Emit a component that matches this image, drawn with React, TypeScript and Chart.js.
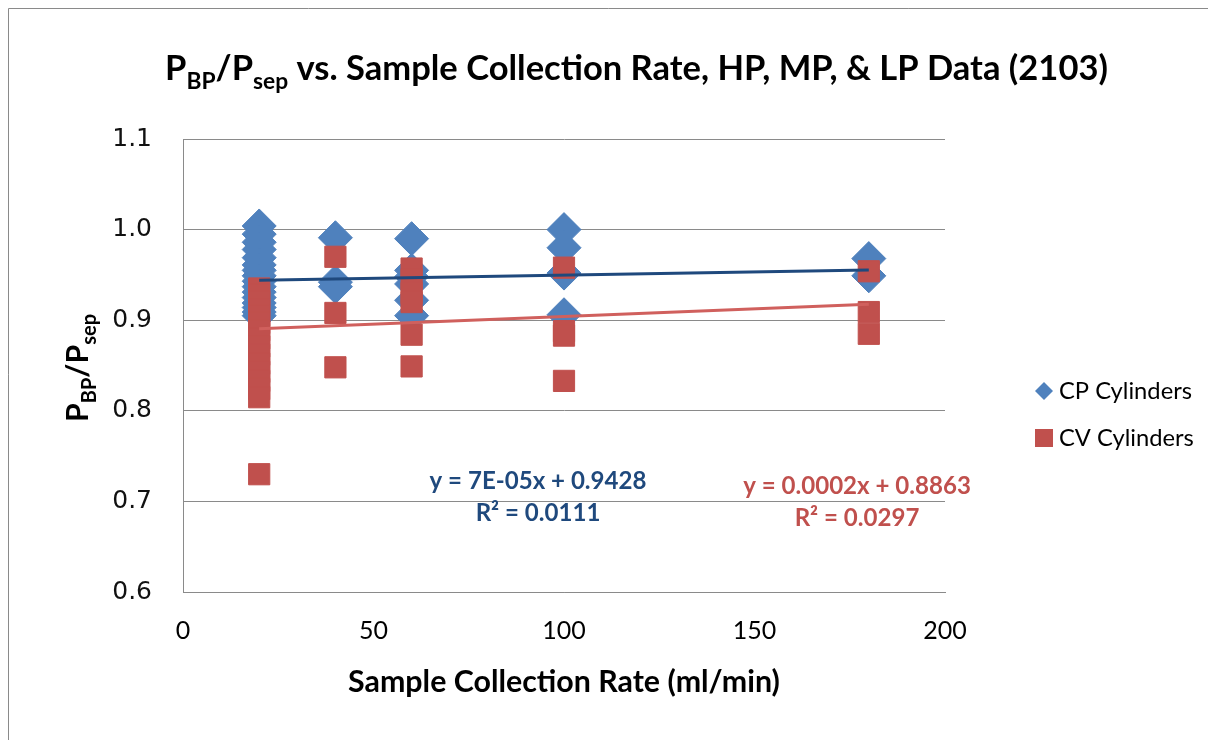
import React, { useEffect, useRef } from 'react';
import { Chart, registerables } from 'chart.js';

Chart.register(...registerables);

// Sample collection rates (ml/min)
const rates = [20, 40, 60, 100, 180];

// CP Cylinders: P_BP/P_sep values at each rate
const cp20 = [1.004, 0.995, 0.986, 0.978, 0.969, 0.961, 0.955, 0.949, 0.943, 0.937, 0.931, 0.925, 0.919, 0.914, 0.909, 0.905];
const cp40 = [0.991, 0.942, 0.937];
const cp60 = [0.99, 0.955, 0.948, 0.94, 0.922, 0.905];
const cp100 = [1.0, 0.98, 0.952, 0.906];
const cp180 = [0.968, 0.949];

// CV Cylinders
const cv20 = [0.935, 0.928, 0.92, 0.912, 0.905, 0.897, 0.889, 0.88, 0.871, 0.862, 0.852, 0.843, 0.833, 0.824, 0.815, 0.73];
const cv40 = [0.97, 0.908, 0.848];
const cv60 = [0.957, 0.945, 0.93, 0.92, 0.884, 0.849];
const cv100 = [0.958, 0.888, 0.883, 0.833];
const cv180 = [0.954, 0.909, 0.885];

// Linear trend lines (endpoints)
const trendX = [20, 180];
const cpTrendY = [0.9442, 0.9554];
const cvTrendY = [0.8905, 0.9175];

const cpLabel = ['y = 7E-05x + 0.9428', 'R² = 0.0111'];
const cvLabel = ['y = 0.0002x + 0.8863', 'R² = 0.0297'];

const yTicks = [0.6, 0.7, 0.8, 0.9, 1.0, 1.1];
const xTicks = [0, 50, 100, 150, 200];

const cpGroups = [cp20, cp40, cp60, cp100, cp180];
const cvGroups = [cv20, cv40, cv60, cv100, cv180];

const toPoints = (groups: number[][]) =>
  groups.flatMap((vals, i) => vals.map((v) => ({ x: rates[i], y: v })));

type Seg = { t: string; sub?: boolean };

const measureSegs = (ctx: CanvasRenderingContext2D, segs: Seg[], size: number, weight: string, family: string) => {
  let w = 0;
  for (const s of segs) {
    const sz = s.sub ? size * 0.66 : size;
    ctx.font = `${weight} ${sz}px ${family}`;
    w += ctx.measureText(s.t).width;
  }
  return w;
};

const fitSize = (ctx: CanvasRenderingContext2D, segs: Seg[], weight: string, family: string, target: number) => {
  const base = 20;
  return (base * target) / measureSegs(ctx, segs, base, weight, family);
};

const drawSegs = (
  ctx: CanvasRenderingContext2D,
  segs: Seg[],
  x: number,
  y: number,
  size: number,
  weight: string,
  family: string,
  align: 'left' | 'center',
  color: string
) => {
  const total = measureSegs(ctx, segs, size, weight, family);
  let cx = align === 'center' ? x - total / 2 : x;
  ctx.fillStyle = color;
  ctx.textAlign = 'left';
  ctx.textBaseline = 'alphabetic';
  for (const s of segs) {
    const sz = s.sub ? size * 0.66 : size;
    ctx.font = `${weight} ${sz}px ${family}`;
    ctx.fillText(s.t, cx, s.sub ? y + size * 0.25 : y);
    cx += ctx.measureText(s.t).width;
  }
};

const FAM = 'Lato, "Open Sans", sans-serif';

const decorPlugin = {
  id: 'decor',
  beforeDraw(chart: any) {
    const ctx = chart.ctx as CanvasRenderingContext2D;
    ctx.save();
    ctx.fillStyle = '#ffffff';
    ctx.fillRect(0, 0, chart.width, chart.height);
    ctx.strokeStyle = '#8a8a8a';
    ctx.lineWidth = 1;
    ctx.beginPath();
    ctx.moveTo(8.5, 740);
    ctx.lineTo(8.5, 8.5);
    ctx.lineTo(1208, 8.5);
    ctx.stroke();
    ctx.restore();
  },
  afterDraw(chart: any) {
    const ctx = chart.ctx as CanvasRenderingContext2D;
    ctx.save();
    // Title
    const title: Seg[] = [
      { t: 'P' },
      { t: 'BP', sub: true },
      { t: '/P' },
      { t: 'sep', sub: true },
      { t: ' vs. Sample Collection Rate, HP, MP, & LP Data (2103)' },
    ];
    const ts = fitSize(ctx, title, 'bold', FAM, 943);
    drawSegs(ctx, title, 636.5, 80, ts, 'bold', FAM, 'center', '#000');

    // X axis title
    const xt: Seg[] = [{ t: 'Sample Collection Rate (ml/min)' }];
    const xs = fitSize(ctx, xt, 'bold', FAM, 432);
    drawSegs(ctx, xt, 564, 692, xs, 'bold', FAM, 'center', '#000');

    // Y axis title (rotated)
    const yt: Seg[] = [{ t: 'P' }, { t: 'BP', sub: true }, { t: '/P' }, { t: 'sep', sub: true }];
    ctx.save();
    ctx.translate(88, 368);
    ctx.rotate(-Math.PI / 2);
    drawSegs(ctx, yt, 0, 0, xs, 'bold', FAM, 'center', '#000');
    ctx.restore();

    // Trend labels
    const ls = fitSize(ctx, [{ t: cpLabel[0] }], 'bold', FAM, 217);
    drawSegs(ctx, [{ t: cpLabel[0] }], 538, 489, ls, 'bold', FAM, 'center', '#1F497D');
    drawSegs(ctx, [{ t: cpLabel[1] }], 538, 521, ls, 'bold', FAM, 'center', '#1F497D');
    drawSegs(ctx, [{ t: cvLabel[0] }], 857, 494, ls, 'bold', FAM, 'center', '#C0504D');
    drawSegs(ctx, [{ t: cvLabel[1] }], 857, 526, ls, 'bold', FAM, 'center', '#C0504D');

    // Legend
    const lg = fitSize(ctx, [{ t: 'CP Cylinders' }], 'normal', FAM, 133);
    ctx.fillStyle = '#4F81BD';
    ctx.beginPath();
    ctx.moveTo(1044, 382);
    ctx.lineTo(1053, 391);
    ctx.lineTo(1044, 400);
    ctx.lineTo(1035, 391);
    ctx.closePath();
    ctx.fill();
    ctx.fillStyle = '#C0504D';
    ctx.fillRect(1035, 429, 18, 18);
    drawSegs(ctx, [{ t: 'CP Cylinders' }], 1059, 399, lg, 'normal', FAM, 'left', '#000');
    drawSegs(ctx, [{ t: 'CV Cylinders' }], 1059, 446, lg, 'normal', FAM, 'left', '#000');
    ctx.restore();
  },
};

export default function App() {
  const ref = useRef<HTMLCanvasElement | null>(null);

  useEffect(() => {
    if (!ref.current) return;
    const chart = new Chart(ref.current, {
      type: 'scatter',
      data: {
        datasets: [
          {
            label: 'CP Cylinders',
            data: toPoints(cpGroups),
            pointStyle: 'rectRot',
            pointRadius: 17,
            backgroundColor: '#4F81BD',
            borderColor: '#4F81BD',
            borderWidth: 1,
            order: 4,
          },
          {
            label: 'CV Cylinders',
            data: toPoints(cvGroups),
            pointStyle: 'rect',
            pointRadius: 15,
            backgroundColor: '#C0504D',
            borderColor: '#C0504D',
            borderWidth: 1,
            order: 3,
          },
          {
            label: 'CP trend',
            data: trendX.map((x, i) => ({ x, y: cpTrendY[i] })),
            showLine: true,
            pointRadius: 0,
            borderColor: '#1F497D',
            borderWidth: 3,
            order: 2,
          },
          {
            label: 'CV trend',
            data: trendX.map((x, i) => ({ x, y: cvTrendY[i] })),
            showLine: true,
            pointRadius: 0,
            borderColor: '#D0605D',
            borderWidth: 3,
            order: 1,
          },
        ],
      },
      options: {
        responsive: false,
        animation: false,
        devicePixelRatio: 1,
        layout: { padding: { left: 0, top: 139, right: 263, bottom: 0 } },
        plugins: {
          legend: { display: false },
          title: { display: false },
          tooltip: { enabled: false },
        },
        scales: {
          x: {
            type: 'linear',
            min: xTicks[0],
            max: xTicks[xTicks.length - 1],
            afterBuildTicks: (s: any) => {
              s.ticks = xTicks.map((v) => ({ value: v }));
            },
            ticks: {
              color: '#000',
              font: { family: FAM, size: 25 },
              padding: 24,
              maxRotation: 0,
            },
            grid: { display: false, drawTicks: false },
            border: { display: true, color: '#8a8a8a', width: 1 },
            afterFit: (s: any) => {
              s.height = 148;
            },
          },
          y: {
            type: 'linear',
            min: yTicks[0],
            max: yTicks[yTicks.length - 1],
            afterBuildTicks: (s: any) => {
              s.ticks = yTicks.map((v) => ({ value: v }));
            },
            ticks: {
              color: '#111',
              font: { family: '"DejaVu Sans", Verdana, sans-serif', size: 25 },
              padding: 31,
              callback: (v: any) => Number(v).toFixed(1),
            },
            grid: { color: '#8a8a8a', lineWidth: 1, drawTicks: false },
            border: { display: true, color: '#8a8a8a', width: 1 },
            afterFit: (s: any) => {
              s.width = 183;
            },
          },
        },
      },
      plugins: [decorPlugin],
    } as any);
    return () => chart.destroy();
  }, []);

  return (
    <div style={{ position: 'fixed', left: 0, top: 0, width: 1208, height: 740, background: '#fff' }}>
      <canvas ref={ref} width={1208} height={740} style={{ display: 'block' }} />
    </div>
  );
}
